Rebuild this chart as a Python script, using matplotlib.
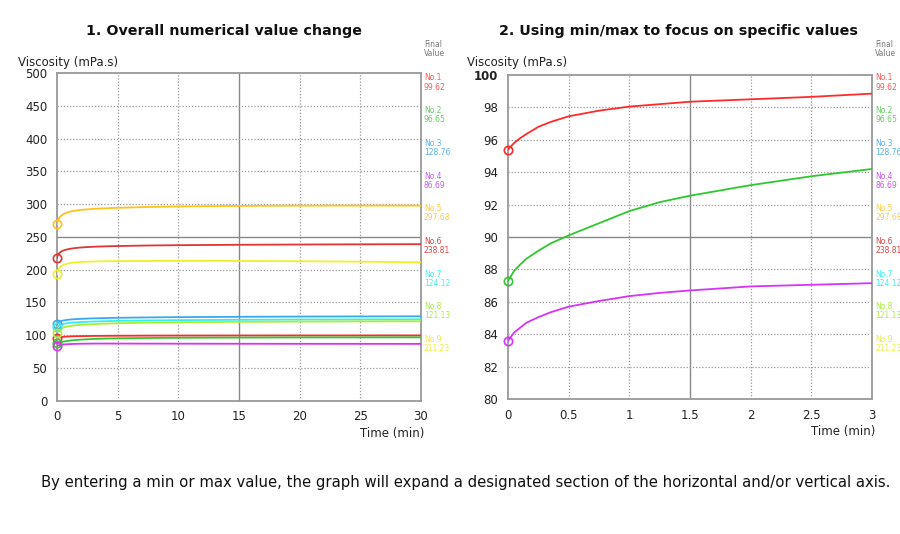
import matplotlib.pyplot as plt

# time (min) and viscosity (mPa.s) readings for the 9 samples
times = [0, 0.05, 0.1, 0.15, 0.25, 0.35, 0.5, 0.75, 1, 1.25, 1.5, 2, 2.5, 3,
         4, 5, 7.5, 10, 15, 20, 25, 30]
no1 = [95.4, 95.8, 96.1, 96.35, 96.8, 97.1, 97.45, 97.8, 98.05, 98.2, 98.35, 98.5, 98.65, 98.85,
       99.0, 99.1, 99.3, 99.4, 99.5, 99.55, 99.6, 99.62]
no2 = [87.3, 87.9, 88.3, 88.65, 89.15, 89.6, 90.1, 90.85, 91.6, 92.15, 92.55, 93.2, 93.75, 94.2,
       94.8, 95.2, 95.7, 96.0, 96.3, 96.5, 96.6, 96.65]
no3 = [117, 118, 119, 119.8, 120.8, 121.5, 122.3, 123.1, 123.7, 124.1, 124.4, 124.9, 125.3, 125.6,
       126.1, 126.5, 127.1, 127.5, 128.0, 128.4, 128.6, 128.76]
no4 = [83.6, 84.1, 84.4, 84.7, 85.05, 85.35, 85.7, 86.05, 86.35, 86.55, 86.7, 86.95, 87.05, 87.15,
       87.2, 87.2, 87.1, 87.0, 86.9, 86.8, 86.75, 86.69]
no5 = [269, 273, 276, 278, 280.5, 282.3, 284.3, 286.5, 288, 289.2, 290, 291.2, 292, 292.7,
       293.6, 294.3, 295.6, 296.4, 297.2, 297.6, 297.7, 297.68]
no6 = [218, 221, 223, 224.5, 226.3, 227.6, 229, 230.5, 231.5, 232.3, 232.9, 233.8, 234.4, 234.9,
       235.5, 236, 236.8, 237.3, 237.9, 238.3, 238.6, 238.81]
no7 = [112, 113, 114, 114.7, 115.6, 116.3, 117.1, 118, 118.6, 119.1, 119.5, 120, 120.4, 120.8,
       121.3, 121.8, 122.5, 122.9, 123.4, 123.8, 124.0, 124.12]
no8 = [104, 105.5, 107, 108, 109.5, 110.5, 111.6, 112.8, 113.7, 114.4, 115, 115.8, 116.4, 116.9,
       117.6, 118.2, 119.1, 119.6, 120.3, 120.7, 121.0, 121.13]
no9 = [193, 197, 199.5, 201.3, 203.7, 205.3, 206.9, 208.6, 209.7, 210.5, 211, 211.7, 212.1, 212.4,
       212.8, 213, 213.2, 213.3, 213.2, 212.8, 212.1, 211.23]

series = [no1, no2, no3, no4, no5, no6, no7, no8, no9]
names = ['No.1', 'No.2', 'No.3', 'No.4', 'No.5', 'No.6', 'No.7', 'No.8', 'No.9']
final_values = ['99.62', '96.65', '128.76', '86.69', '297.68', '238.81', '124.12', '121.13', '211.23']
colors = ['#ff2a2a', '#2ec82e', '#3aa8f0', '#d633f5', '#ffc21a',
          '#e03535', '#33f0f0', '#a8f030', '#f0f028']
label_colors = ['#ff5555', '#66cc66', '#55b0ee', '#cc55ee', '#ffcc44',
                '#dd4444', '#44eeee', '#aaee44', '#eeee44']

x_ticks_1 = [0, 5, 10, 15, 20, 25, 30]
y_ticks_1 = [0, 50, 100, 150, 200, 250, 300, 350, 400, 450, 500]
x_ticks_2 = [0, 0.5, 1, 1.5, 2, 2.5, 3]
x_labels_2 = ['0', '0.5', '1', '1.5', '2', '2.5', '3']
y_ticks_2 = [80, 82, 84, 86, 88, 90, 92, 94, 96, 98, 100]

plt.rcParams['font.family'] = ['DejaVu Sans']

fig = plt.figure(figsize=(9, 5.34), dpi=100)
W, H = 900, 534


def fx(px):
    return px / W


def fy(py):
    return 1 - py / H


ax1 = fig.add_axes([fx(57), fy(400.7), fx(421) - fx(57), fy(73) - fy(400.7)])
ax2 = fig.add_axes([fx(508), fy(399), fx(872) - fx(508), fy(75) - fy(399)])


def style_axes(ax, xt, yt, xmid, ymid, xlim, ylim, xlabels=None):
    ax.set_xlim(*xlim)
    ax.set_ylim(*ylim)
    ax.set_xticks(xt)
    if xlabels:
        ax.set_xticklabels(xlabels)
    ax.set_yticks(yt)
    ax.tick_params(length=0, labelsize=8.5, colors='#222222')
    ax.tick_params(axis='x', pad=7)
    ax.tick_params(axis='y', pad=7)
    for v in xt[1:-1]:
        if v == xmid:
            ax.axvline(v, color='#888888', lw=1.0, zorder=1)
        else:
            ax.axvline(v, color='#999999', lw=0.9, ls=(0, (1, 1.5)), zorder=1)
    for v in yt[1:-1]:
        if v == ymid:
            ax.axhline(v, color='#888888', lw=1.0, zorder=1)
        else:
            ax.axhline(v, color='#999999', lw=0.9, ls=(0, (1, 1.5)), zorder=1)
    for s in ax.spines.values():
        s.set_color('#999999')
        s.set_linewidth(1.3)
    ax.text(1.008, -0.1, 'Time (min)', transform=ax.transAxes, ha='right', va='center',
            fontsize=8.5, color='#222222')


style_axes(ax1, x_ticks_1, y_ticks_1, 15, 250, (0, 30), (0, 500))
style_axes(ax2, x_ticks_2, y_ticks_2, 1.5, 90, (0, 3), (80, 100), x_labels_2)
for lab in ax2.get_yticklabels():
    if lab.get_text() == '100':
        lab.set_fontweight('bold')

for ax in (ax1, ax2):
    lo, hi = ax.get_ylim()
    for vals, c in zip(series, colors):
        ax.plot(times, vals, color=c, lw=1.3, zorder=3)
        if lo <= vals[0] <= hi:
            ax.plot(times[0], vals[0], 'o', ms=6, mfc='none', mec=c, mew=1.2,
                    zorder=4, clip_on=False)

# right-hand labels
for xpix in (424, 875):
    fig.text(fx(xpix), fy(49), 'Final\nValue', fontsize=5.5, color='#777777',
             ha='left', va='center', linespacing=1.1)
    for i, (n, v, c) in enumerate(zip(names, final_values, label_colors)):
        ytop = 78 + i * 32.7
        fig.text(fx(xpix), fy(ytop), n, fontsize=5.5, color=c, ha='left', va='center')
        fig.text(fx(xpix), fy(ytop + 9), v, fontsize=5.5, color=c, ha='left', va='center')

fig.text(fx(18), fy(62), 'Viscosity (mPa.s)', fontsize=8.5, color='#222222', va='center')
fig.text(fx(467), fy(62), 'Viscosity (mPa.s)', fontsize=8.5, color='#222222', va='center')

fig.text(fx(224), fy(31), '1. Overall numerical value change', fontsize=10.3, fontweight='bold',
         ha='center', va='center', color='#111111')
fig.text(fx(678), fy(31), '2. Using min/max to focus on specific values', fontsize=10.3,
         fontweight='bold', ha='center', va='center', color='#111111')

fig.text(fx(466), fy(483), 'By entering a min or max value, the graph will expand a designated '
         'section of the horizontal and/or vertical axis.', fontsize=10.75, ha='center',
         va='center', color='#111111')

fig.savefig('out.png', dpi=100, facecolor='white')
